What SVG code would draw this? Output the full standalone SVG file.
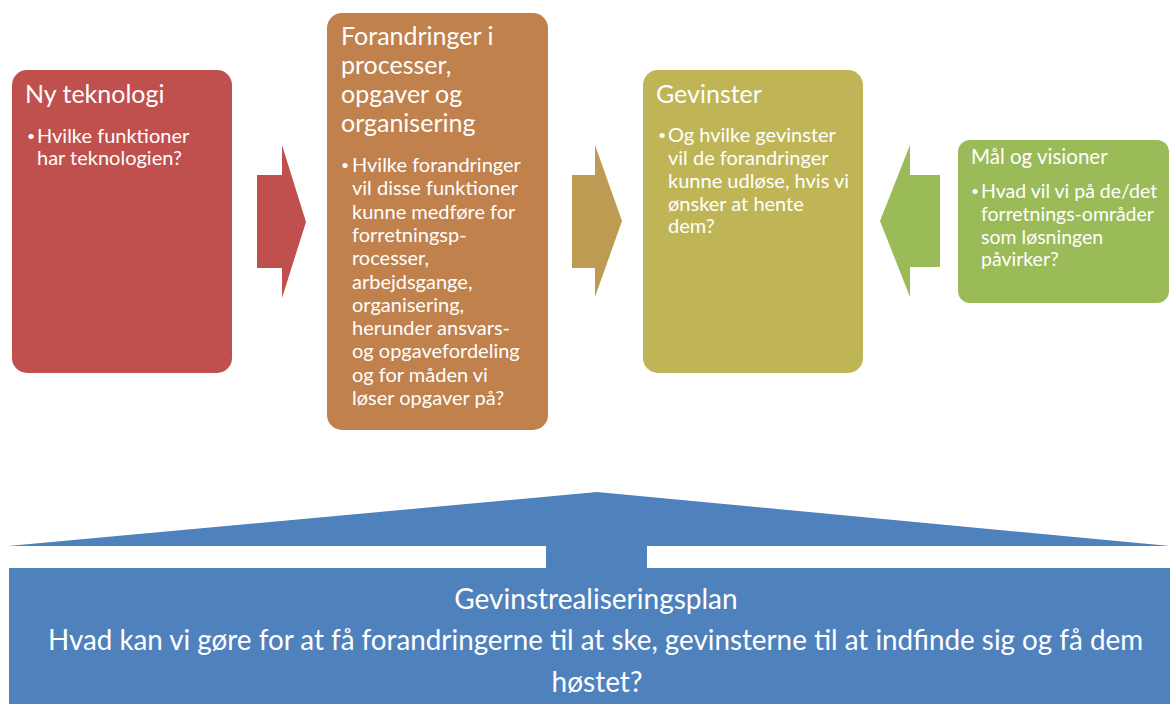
<svg xmlns="http://www.w3.org/2000/svg" width="1170" height="704" viewBox="0 0 1170 704">
<style>
text{font-family:Lato,"Open Sans","Liberation Sans",sans-serif;fill:#FFFFFF}
.t{font-size:25px}
.t4{font-size:20.5px}
.b{font-size:20px}
.b4{font-size:19.5px}
.dot{font-size:14px}
.p{font-size:28px}
</style>
<rect width="1170" height="704" fill="#FFFFFF"/>
<g id="connectors">
<polygon points="257,175 282,175 282,145 306,222 282,298 282,268 257,268" fill="#C0504D"/>
<polygon points="572,175 595,175 595,145 622,221 595,297 595,268 572,268" fill="#BE9B52"/>
<polygon points="940,175 910,175 910,145 880,221 910,297 910,267 940,267" fill="#9BBB59"/>
</g>
<g id="node-ny-teknologi">
<rect x="12" y="70" width="220" height="303" rx="15" fill="#C0504D"/>
<text class="t" x="25" y="103">Ny teknologi</text>
<text class="dot" x="27" y="141">•</text>
<text class="b" x="37" y="143">Hvilke funktioner</text>
<text class="b" x="37" y="165">har teknologien?</text>
</g>
<g id="node-forandringer">
<rect x="327" y="13" width="221" height="417" rx="15" fill="#C0814D"/>
<text class="t" x="341" y="45">Forandringer i</text>
<text class="t" x="341" y="74">processer,</text>
<text class="t" x="341" y="103">opgaver og</text>
<text class="t" x="341" y="132">organisering</text>
<text class="dot" x="341" y="170">•</text>
<text class="b" x="352" y="172">Hvilke forandringer</text>
<text class="b" x="352" y="195.3">vil disse funktioner</text>
<text class="b" x="352" y="218.6">kunne medføre for</text>
<text class="b" x="352" y="241.9">forretningsp-</text>
<text class="b" x="352" y="265.2">rocesser,</text>
<text class="b" x="352" y="288.5">arbejdsgange,</text>
<text class="b" x="352" y="311.8">organisering,</text>
<text class="b" x="352" y="335.1">herunder ansvars-</text>
<text class="b" x="352" y="358.4">og opgavefordeling</text>
<text class="b" x="352" y="381.7">og for måden vi</text>
<text class="b" x="352" y="405">løser opgaver på?</text>
</g>
<g id="node-gevinster">
<rect x="643" y="70" width="220" height="303" rx="15" fill="#BFB556"/>
<text class="t" x="656" y="103">Gevinster</text>
<text class="dot" x="658" y="140">•</text>
<text class="b" x="668" y="142">Og hvilke gevinster</text>
<text class="b" x="668" y="165">vil de forandringer</text>
<text class="b" x="668" y="188">kunne udløse, hvis vi</text>
<text class="b" x="668" y="211">ønsker at hente</text>
<text class="b" x="668" y="233">dem?</text>
</g>
<g id="node-maal">
<rect x="958" y="140" width="211" height="163" rx="12" fill="#9BBB59"/>
<text class="t4" x="971" y="164">Mål og visioner</text>
<text class="dot" x="971" y="196">•</text>
<text class="b4" x="981" y="198">Hvad vil vi på de/det</text>
<text class="b4" x="981" y="221">forretnings-områder</text>
<text class="b4" x="981" y="243.5">som løsningen</text>
<text class="b4" x="981" y="266">påvirker?</text>
</g>
<g id="node-plan">
<polygon points="8,546 597,492 1170,546 647,546 647,568 1170,568 1170,704 9,704 9,568 546,568 546,546" fill="#4F81BD"/>
<text class="p" x="596" y="609" text-anchor="middle">Gevinstrealiseringsplan</text>
<text class="p" x="595.5" y="650" text-anchor="middle" textLength="1095" lengthAdjust="spacingAndGlyphs">Hvad kan vi gøre for at få forandringerne til at ske, gevinsterne til at indfinde sig og få dem</text>
<text class="p" x="597" y="692" text-anchor="middle">høstet?</text>
</g>
</svg>
